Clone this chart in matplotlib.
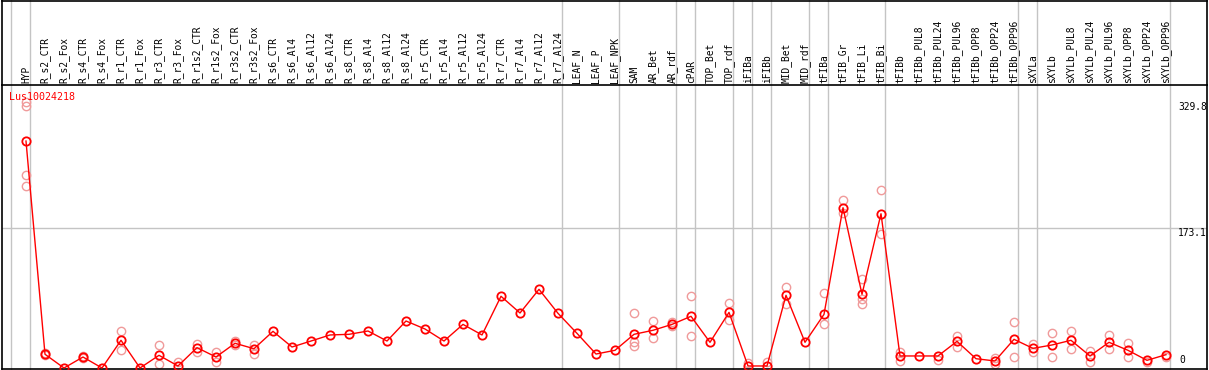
import matplotlib
matplotlib.use("Agg")
import matplotlib.pyplot as plt
from matplotlib.lines import Line2D
import numpy as np

categories = ["HYP", "R_s2_CTR", "R_s2_Fox", "R_s4_CTR", "R_s4_Fox", "R_r1_CTR", "R_r1_Fox",
              "R_r3_CTR", "R_r3_Fox", "R_r1s2_CTR", "R_r1s2_Fox", "R_r3s2_CTR", "R_r3s2_Fox",
              "R_s6_CTR", "R_s6_Al4", "R_s6_Al12", "R_s6_Al24", "R_s8_CTR", "R_s8_Al4",
              "R_s8_Al12", "R_s8_Al24", "R_r5_CTR", "R_r5_Al4", "R_r5_Al12", "R_r5_Al24",
              "R_r7_CTR", "R_r7_Al4", "R_r7_Al12", "R_r7_Al24", "LEAF_N", "LEAF_P", "LEAF_NPK",
              "SAM", "AR_Bet", "AR_rdf", "cPAR", "TOP_Bet", "TOP_rdf", "iFIBa", "iFIBb",
              "MID_Bet", "MID_rdf", "tFIBa", "tFIB_Gr", "tFIB_Li", "tFIB_Bi", "tFIBb",
              "tFIBb_PUL8", "tFIBb_PUL24", "tFIBb_PUL96", "tFIBb_OPP8", "tFIBb_OPP24",
              "tFIBb_OPP96", "sXYLa", "sXYLb", "sXYLb_PUL8", "sXYLb_PUL24", "sXYLb_PUL96",
              "sXYLb_OPP8", "sXYLb_OPP24", "sXYLb_OPP96"]

group_sizes = [1, 28, 3, 3, 1, 2, 1, 1, 2, 1, 3, 7, 1, 7]

mean_values = [281, 17, 0, 13.6, 0, 34.3, 0, 15.7, 2.5, 25.2, 13.6, 30.6, 23.9,
               45.4, 26, 33.4, 40.9, 41.7, 45.8, 33.4, 58.2, 48.3, 33.4, 54, 40.9,
               88.8, 68.1, 97.4, 67.7, 42.9, 17.3, 21.9,
               41.7, 46.7, 54, 64, 31.8, 68.9, 2.5, 2.5, 90, 31.8, 66.4, 198.5, 91.2, 191,
               14.9, 14.9, 14.9, 33, 11.5, 8.7, 35.5, 24.3, 28.5, 34.3, 14.9, 31.8, 21.9,
               9.5, 16.5]

replicates = [[329.8, 325, 239, 225], [16, 18], [], [12, 15], [], [45.4, 21.9], [],
              [28, 4.5], [7.4], [30, 19.8], [19.4, 7], [33.4, 29], [28, 17.7],
              [], [], [], [], [], [], [], [], [], [], [], [], [], [], [], [], [], [], [],
              [67.7, 31.8, 27.2], [58.2, 36.7], [57, 52], [88.8, 39.2], [], [80, 59],
              [6], [7.8], [100, 78.9], [], [92.5, 54], [207.6, 191.5], [109.8, 86, 78.9],
              [220, 165.5], [20, 8.7], [], [9.5], [40, 26.4], [], [12, 5], [56.5, 13.2],
              [30, 20], [42.9, 13.2], [45.8, 23.1], [21, 7], [40.9, 23.9], [31, 14],
              [8], [14]]

y_ticks = [329.8, 173.1, 0]
gene_name = "Lus10024218"

W, H = 1209, 370
fig = plt.figure(figsize=(W / 100, H / 100), dpi=100)
ax_l, ax_r, ax_t, ax_b = 2, 1207, 85, 369
ax = fig.add_axes([ax_l / W, 1 - ax_b / H, (ax_r - ax_l) / W, (ax_b - ax_t) / H])

x = np.arange(len(categories))
ax.set_xlim((ax_l - 26) / 19, (ax_r - 26) / 19)
ax.set_ylim(-1.24, 350.4)
ax.set_xticks([])
ax.set_yticks([])
for s in ax.spines.values():
    s.set_color("black")
    s.set_linewidth(1.2)

font = "DejaVu Sans Mono"
grey = "#c4c4c4"

# horizontal gridline
ax.axhline(y_ticks[1], color=grey, lw=1.0, zorder=0)

# vertical group separators (extend into label area)
bounds = np.concatenate([[0], np.cumsum(group_sizes)]) - 1 + 0.23
top_ext = 1 + ax_t / (ax_b - ax_t)
for b in bounds:
    ax.add_line(Line2D([b, b], [0, top_ext], transform=ax.get_xaxis_transform(),
                       color=grey, lw=1.0, clip_on=False, zorder=0))

# replicates
rx, ry = [], []
for i, reps in enumerate(replicates):
    for v in reps:
        rx.append(x[i]); ry.append(v)
ax.plot(rx, ry, linestyle="none", marker="o", markersize=6.0, markerfacecolor="none",
        markeredgecolor="#f09a9a", markeredgewidth=1.0, zorder=2, clip_on=False)

# main line
ax.plot(x, mean_values, color="red", lw=1.0, marker="o", markersize=6.0,
        markerfacecolor="none", markeredgecolor="red", markeredgewidth=1.3, zorder=3,
        clip_on=False)

# category labels
for i, c in enumerate(categories):
    ax.text(x[i], 1 + 2 / (ax_b - ax_t), c, rotation=90, ha="center", va="bottom",
            fontsize=6.9, family=font, transform=ax.get_xaxis_transform())

# y tick labels
xl = (1178 - 26) / 19
ax.text(xl, y_ticks[0], f"{y_ticks[0]}", ha="left", va="top", fontsize=6.9, family=font)
ax.text(xl, y_ticks[1], f"{y_ticks[1]}", ha="left", va="top", fontsize=6.9, family=font)
ax.text(xl + 0.05, 3.5, f"{y_ticks[2]}", ha="left", va="bottom", fontsize=6.9, family=font)

# gene name
ax.text((9.5 - 26) / 19, 1 - (92 - ax_t) / (ax_b - ax_t), gene_name, color="red",
        ha="left", va="top", fontsize=7.2, family=font, transform=ax.get_xaxis_transform())

# outer frame
def fig_line(xs, ys):
    fig.add_artist(Line2D([v / W for v in xs], [1 - v / H for v in ys],
                          transform=fig.transFigure, color="black", lw=1.2))

fig_line([1.5, 1.5], [0, ax_t])
fig_line([ax_r, ax_r], [0, ax_t])
fig_line([1.5, ax_r], [0.6, 0.6])

fig.savefig("out.png", dpi=100)
